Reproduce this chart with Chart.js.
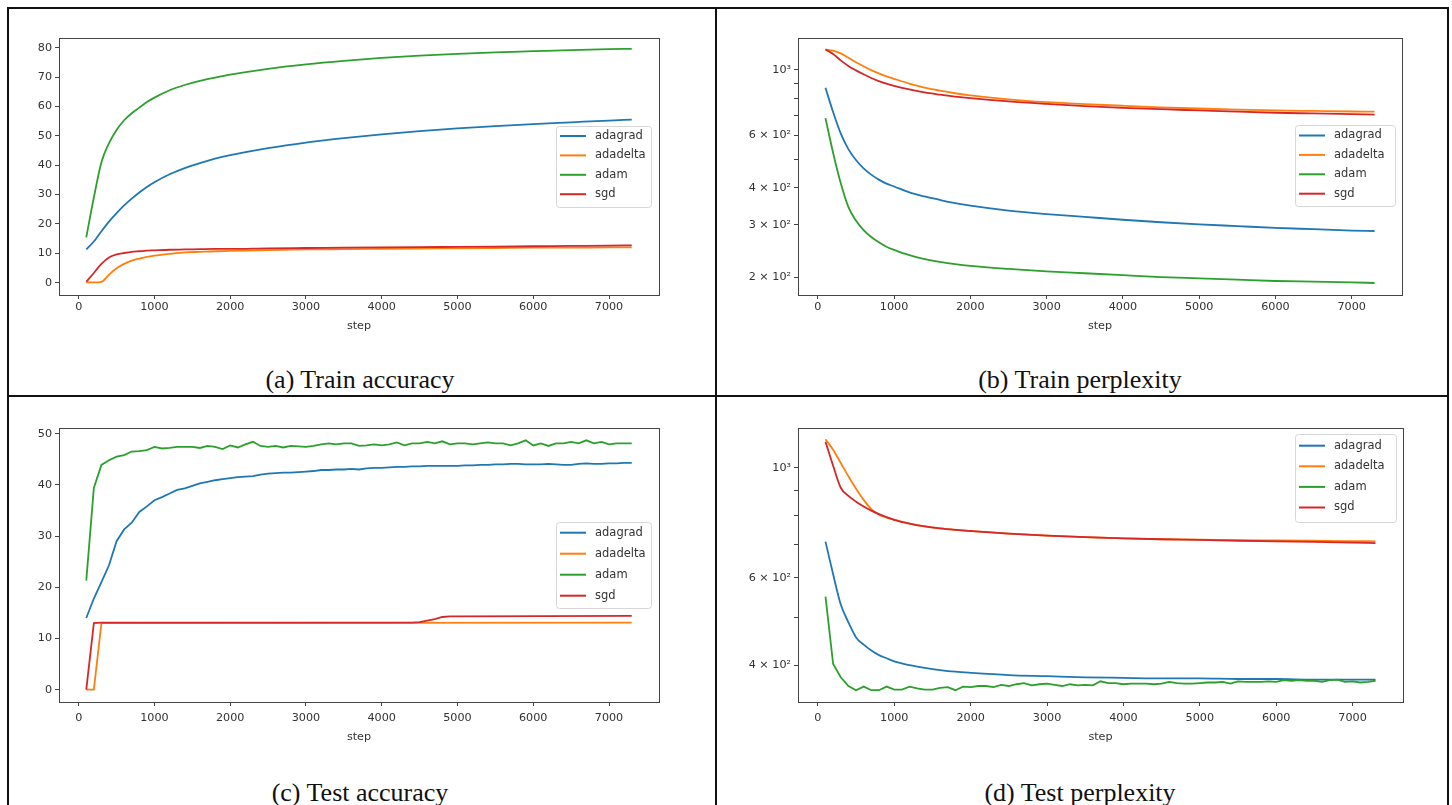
<!DOCTYPE html>
<html lang="en">
<head>
<meta charset="UTF-8">
<title>Optimizer comparison</title>
<script src="https://cdn.jsdelivr.net/npm/chart.js"></script>
<style>
  body { margin: 0; background: #fff; width: 1452px; height: 805px; overflow: hidden; position: relative; }
  .rule { position: absolute; background: #111; }
  canvas { position: absolute; }
  .caption { position: absolute; font-family: 'Liberation Serif', serif; font-size: 26px; color: #111;
             transform: translateX(-50%); white-space: nowrap; line-height: 26px; }
</style>
</head>
<body>
  <!-- panel frame lines -->
  <div class="rule" style="left:7px;top:7px;width:1442px;height:2px"></div>
  <div class="rule" style="left:7px;top:395px;width:1442px;height:2px"></div>
  <div class="rule" style="left:7px;top:7px;width:2px;height:798px"></div>
  <div class="rule" style="left:715px;top:7px;width:2px;height:798px"></div>
  <div class="rule" style="left:1447px;top:7px;width:2px;height:798px"></div>

  <canvas id="trainAcc" width="716" height="333" style="left:0;top:0"></canvas>
  <canvas id="trainPpl" width="736" height="333" style="left:716px;top:0"></canvas>
  <canvas id="testAcc" width="716" height="348" style="left:0;top:396px"></canvas>
  <canvas id="testPpl" width="736" height="348" style="left:716px;top:396px"></canvas>

  <div class="caption" style="left:360px;top:367px">(a) Train accuracy</div>
  <div class="caption" style="left:1080px;top:367px">(b) Train perplexity</div>
  <div class="caption" style="left:360px;top:780px">(c) Test accuracy</div>
  <div class="caption" style="left:1080px;top:780px">(d) Test perplexity</div>

<script>
// ---- data ----
const names = ['adagrad', 'adadelta', 'adam', 'sgd'];
const xTicks = [0, 1000, 2000, 3000, 4000, 5000, 6000, 7000];
const accTicksTrain = [0, 10, 20, 30, 40, 50, 60, 70, 80];
const accTicksTest = [0, 10, 20, 30, 40, 50];
const pplTicksTrain = [200, 300, 400, 500, 600, 700, 800, 900, 1000];
const pplLabelsTrain = ['2 × 10²', '3 × 10²', '4 × 10²', '', '6 × 10²', '', '', '', '10³'];
const pplTicksTest = [400, 500, 600, 700, 800, 900, 1000];
const pplLabelsTest = ['4 × 10²', '', '6 × 10²', '', '', '', '10³'];

const stepsCoarse = [100, 200, 300, 400, 500, 600, 700, 800, 900, 1000, 1200, 1400, 1600, 1800, 2000,
                     2500, 3000, 3500, 4000, 4500, 5000, 5500, 6000, 6500, 7000, 7300];
const stepsFine = [100, 200, 300, 400, 500, 600, 700, 800, 900, 1000,
                   1100, 1200, 1300, 1400, 1500, 1600, 1700, 1800, 1900, 2000,
                   2100, 2200, 2300, 2400, 2500, 2600, 2700, 2800, 2900, 3000,
                   3100, 3200, 3300, 3400, 3500, 3600, 3700, 3800, 3900, 4000,
                   4100, 4200, 4300, 4400, 4500, 4600, 4700, 4800, 4900, 5000,
                   5100, 5200, 5300, 5400, 5500, 5600, 5700, 5800, 5900, 6000,
                   6100, 6200, 6300, 6400, 6500, 6600, 6700, 6800, 6900, 7000,
                   7100, 7200, 7300];

// (a) train accuracy, on stepsCoarse
const trainAccAdagrad = [11.3, 14.0, 17.5, 20.8, 23.7, 26.3, 28.6, 30.7, 32.6, 34.2, 36.9, 39.0, 40.7, 42.2, 43.4,
                         45.8, 47.7, 49.2, 50.5, 51.6, 52.5, 53.3, 54.0, 54.6, 55.2, 55.5];
const trainAccAdadelta = [0.1, 0.1, 0.3, 2.7, 4.9, 6.4, 7.5, 8.2, 8.8, 9.2, 9.8, 10.3, 10.5, 10.7, 10.8,
                          11.1, 11.3, 11.4, 11.5, 11.6, 11.7, 11.8, 11.9, 11.9, 12.0, 12.0];
const trainAccAdam = [15.4, 29.0, 41.0, 47.5, 52.0, 55.3, 57.7, 59.6, 61.5, 63.0, 65.5, 67.3, 68.7, 69.8, 70.8,
                      72.8, 74.3, 75.5, 76.5, 77.3, 77.9, 78.4, 78.8, 79.2, 79.5, 79.6];
const trainAccSgd = [0.3, 3.3, 6.4, 8.6, 9.6, 10.1, 10.5, 10.7, 10.9, 11.0, 11.2, 11.3, 11.4, 11.5, 11.5,
                     11.7, 11.8, 11.9, 12.0, 12.1, 12.2, 12.3, 12.4, 12.5, 12.6, 12.7];

// (b) train perplexity, on stepsCoarse
const trainPplAdagrad = [870, 720, 610, 540, 496, 465, 443, 426, 413, 404, 386, 374, 364, 355, 348,
                         335, 326, 319, 312, 306, 301, 297, 293, 290, 287, 286];
const trainPplAdadelta = [1170, 1160, 1135, 1098, 1060, 1027, 997, 972, 950, 932, 898, 870, 850, 833, 819,
                          794, 777, 766, 756, 747, 740, 734, 729, 726, 723, 722];
const trainPplAdam = [687, 525, 415, 345, 310, 288, 273, 262, 253, 247, 237, 230, 225, 221, 218,
                      213, 209, 206, 203, 200, 198, 196, 194, 193, 192, 191];
const trainPplSgd = [1170, 1130, 1075, 1030, 995, 965, 938, 915, 897, 882, 858, 838, 824, 812, 802,
                     782, 767, 754, 744, 736, 729, 722, 716, 712, 708, 706];

// (c) test accuracy
const testAccAdagrad = [14.0, 17.8, 21.0, 24.3, 29.0, 31.3, 32.6, 34.7, 35.8, 37.0,
                        37.6, 38.3, 39.0, 39.3, 39.8, 40.3, 40.6, 40.9, 41.1, 41.3,
                        41.5, 41.6, 41.7, 42.0, 42.2, 42.3, 42.4, 42.4, 42.5, 42.6,
                        42.7, 42.9, 42.9, 43.0, 43.0, 43.1, 43.0, 43.2, 43.3, 43.3,
                        43.4, 43.5, 43.5, 43.6, 43.6, 43.7, 43.7, 43.7, 43.7, 43.7,
                        43.8, 43.8, 43.9, 43.9, 44.0, 44.0, 44.1, 44.1, 44.0, 44.0,
                        44.0, 44.1, 44.0, 43.9, 43.9, 44.1, 44.2, 44.1, 44.1, 44.2,
                        44.2, 44.3, 44.3];
const testAccAdam = [21.3, 39.4, 43.9, 44.8, 45.5, 45.8, 46.5, 46.6, 46.8, 47.4,
                     47.1, 47.2, 47.4, 47.4, 47.4, 47.2, 47.6, 47.4, 47.0, 47.7,
                     47.3, 47.9, 48.4, 47.6, 47.4, 47.6, 47.3, 47.6, 47.5, 47.4,
                     47.6, 47.9, 48.1, 47.9, 48.1, 48.1, 47.6, 47.7, 47.9, 47.7,
                     47.9, 48.3, 47.7, 48.1, 48.1, 48.4, 48.1, 48.5, 47.9, 48.1,
                     48.1, 47.9, 48.1, 48.3, 48.1, 48.1, 47.7, 48.1, 48.7, 47.7,
                     48.1, 47.6, 48.1, 48.1, 48.4, 48.1, 48.7, 48.1, 48.4, 47.9,
                     48.1, 48.1, 48.1];
const testAccAdadeltaSteps = [100, 200, 300, 7300];
const testAccAdadelta = [0, 0, 13.0, 13.1];
const testAccSgdSteps = [100, 200, 300, 4400, 4500, 4600, 4700, 4800, 4900, 5000, 7300];
const testAccSgd = [0, 13.0, 13.1, 13.1, 13.2, 13.5, 13.8, 14.2, 14.3, 14.3, 14.4];

// (d) test perplexity
const testPplAdagrad = [710, 610, 530, 488, 455, 440, 428, 419, 413, 407, 400, 395, 391, 388, 386,
                        382, 380, 378, 377, 376, 376, 375, 375, 374, 374, 374];
const testPplAdadelta = [1143, 1088, 1023, 962, 908, 862, 826, 805, 794, 786, 772, 762, 755, 750, 746,
                         737, 730, 725, 721, 718, 717, 715, 714, 713, 712, 711];
const testPplSgd = [1130, 1010, 912, 878, 855, 836, 820, 807, 796, 786, 772, 762, 755, 750, 746,
                    737, 730, 725, 721, 718, 716, 713, 711, 709, 707, 705];
const testPplAdam = [550, 402, 378, 363, 356, 362, 356, 356, 362, 357,
                     357, 362, 359, 357, 357, 360, 361, 356, 362, 361,
                     363, 363, 361, 365, 363, 366, 368, 364, 366, 367,
                     365, 363, 366, 364, 365, 364, 371, 368, 368, 366,
                     367, 367, 367, 366, 367, 370, 368, 367, 367, 368,
                     369, 369, 370, 367, 371, 370, 370, 370, 371, 370,
                     373, 372, 373, 372, 372, 370, 373, 374, 370, 371,
                     369, 370, 372];

// ---- styling ----
const colors = ['#1f77b4', '#ff7f0e', '#2ca02c', '#d62728'];
const tickFont = { family: 'DejaVu Sans', size: 11.2 };
const textColor = '#333';

function pairs(steps, values) {
  return steps.map((s, i) => ({ x: s, y: values[i] }));
}

// draws the matplotlib-like axes frame and the boxed legend
const framePlugin = {
  id: 'frame',
  afterDraw(chart, args, opts) {
    const { ctx, chartArea: a } = chart;
    ctx.save();
    ctx.strokeStyle = '#444';
    ctx.lineWidth = 1;
    ctx.strokeRect(Math.round(a.left) + 0.5, Math.round(a.top) + 0.5,
                   Math.round(a.right - a.left), Math.round(a.bottom - a.top));

    const L = opts.legend;
    ctx.beginPath();
    if (ctx.roundRect) ctx.roundRect(L.left + 0.5, L.top + 0.5, L.width, L.height, 3);
    else ctx.rect(L.left + 0.5, L.top + 0.5, L.width, L.height);
    ctx.fillStyle = 'rgba(255,255,255,0.85)';
    ctx.fill();
    ctx.strokeStyle = '#d6d6d6';
    ctx.stroke();
    ctx.font = '11.5px "DejaVu Sans"';
    ctx.textBaseline = 'middle';
    ctx.fillStyle = textColor;
    names.forEach((n, i) => {
      const y = L.top + L.first + i * L.gap;
      ctx.strokeStyle = colors[i];
      ctx.lineWidth = 2;
      ctx.beginPath();
      ctx.moveTo(L.left + 4, y);
      ctx.lineTo(L.left + 30, y);
      ctx.stroke();
      ctx.fillText(n, L.left + 39, y);
    });
    ctx.restore();
  }
};

function xScale(height, labelPad) {
  return {
    type: 'linear', min: -260, max: 7660,
    afterBuildTicks: s => { s.ticks = xTicks.map(v => ({ value: v })); },
    afterFit: s => { s.height = height; },
    grid: { drawOnChartArea: false, drawTicks: true, tickLength: 4, color: '#444' },
    border: { display: false },
    ticks: { color: textColor, font: tickFont, padding: labelPad, maxRotation: 0, autoSkip: false,
             callback: v => String(v) },
    title: { display: true, text: 'step', color: textColor, font: tickFont, padding: 0 }
  };
}

function yScale(cfg) {
  return {
    type: cfg.type, min: cfg.min, max: cfg.max,
    afterBuildTicks: s => { s.ticks = cfg.ticks.map(v => ({ value: v })); },
    afterFit: s => { s.width = cfg.width; },
    grid: { drawOnChartArea: false, drawTicks: true, tickLength: 4, color: '#444' },
    border: { display: false },
    ticks: {
      color: textColor, font: tickFont, padding: 3, autoSkip: false,
      callback: v => cfg.labels ? cfg.labels[cfg.ticks.indexOf(v)] : String(v)
    }
  };
}

function makeChart(id, series, cfg) {
  const datasets = series.map((s, i) => ({
    label: names[i],
    data: pairs(s.steps, s.values),
    borderColor: colors[i],
    backgroundColor: colors[i],
    borderWidth: 1.8,
    pointRadius: 0,
    fill: false,
    order: 3 - i,
    cubicInterpolationMode: s.smooth ? 'monotone' : 'default',
    tension: 0
  }));
  return new Chart(document.getElementById(id), {
    type: 'line',
    data: { datasets },
    options: {
      responsive: false,
      animation: false,
      devicePixelRatio: 1,
      layout: { padding: cfg.padding },
      plugins: { legend: { display: false }, tooltip: { enabled: false }, frame: { legend: cfg.legend } },
      scales: { x: xScale(cfg.xHeight, cfg.xPad), y: yScale(cfg.y) }
    },
    plugins: [framePlugin]
  });
}

makeChart('trainAcc', [
  { steps: stepsCoarse, values: trainAccAdagrad, smooth: true },
  { steps: stepsCoarse, values: trainAccAdadelta, smooth: true },
  { steps: stepsCoarse, values: trainAccAdam, smooth: true },
  { steps: stepsCoarse, values: trainAccSgd, smooth: true }
], {
  padding: { left: 0, top: 38, right: 57, bottom: 0 },
  xHeight: 38, xPad: 1,
  y: { type: 'linear', min: -4.2, max: 83.3, ticks: accTicksTrain, width: 59 },
  legend: { left: 556, top: 126, width: 95, height: 81, first: 10, gap: 19.4 }
});

makeChart('trainPpl', [
  { steps: stepsCoarse, values: trainPplAdagrad, smooth: true },
  { steps: stepsCoarse, values: trainPplAdadelta, smooth: true },
  { steps: stepsCoarse, values: trainPplAdam, smooth: true },
  { steps: stepsCoarse, values: trainPplSgd, smooth: true }
], {
  padding: { left: 0, top: 38, right: 50, bottom: 0 },
  xHeight: 38, xPad: 1,
  y: { type: 'logarithmic', min: 174, max: 1279, ticks: pplTicksTrain, labels: pplLabelsTrain, width: 82 },
  legend: { left: 579, top: 125, width: 100, height: 81, first: 10.5, gap: 19.4 }
});

makeChart('testAcc', [
  { steps: stepsFine, values: testAccAdagrad },
  { steps: testAccAdadeltaSteps, values: testAccAdadelta },
  { steps: stepsFine, values: testAccAdam },
  { steps: testAccSgdSteps, values: testAccSgd }
], {
  padding: { left: 0, top: 32, right: 57, bottom: 0 },
  xHeight: 42, xPad: 5,
  y: { type: 'linear', min: -2.4, max: 51.1, ticks: accTicksTest, width: 59 },
  legend: { left: 556, top: 126, width: 95, height: 86, first: 10.7, gap: 21 }
});

makeChart('testPpl', [
  { steps: stepsCoarse, values: testPplAdagrad, smooth: true },
  { steps: stepsCoarse, values: testPplAdadelta, smooth: true },
  { steps: stepsFine, values: testPplAdam },
  { steps: stepsCoarse, values: testPplSgd, smooth: true }
], {
  padding: { left: 0, top: 32, right: 49, bottom: 0 },
  xHeight: 42, xPad: 5,
  y: { type: 'logarithmic', min: 337, max: 1204, ticks: pplTicksTest, labels: pplLabelsTest, width: 82 },
  legend: { left: 579, top: 38, width: 101, height: 88, first: 11.7, gap: 20.6 }
});
</script>
</body>
</html>
